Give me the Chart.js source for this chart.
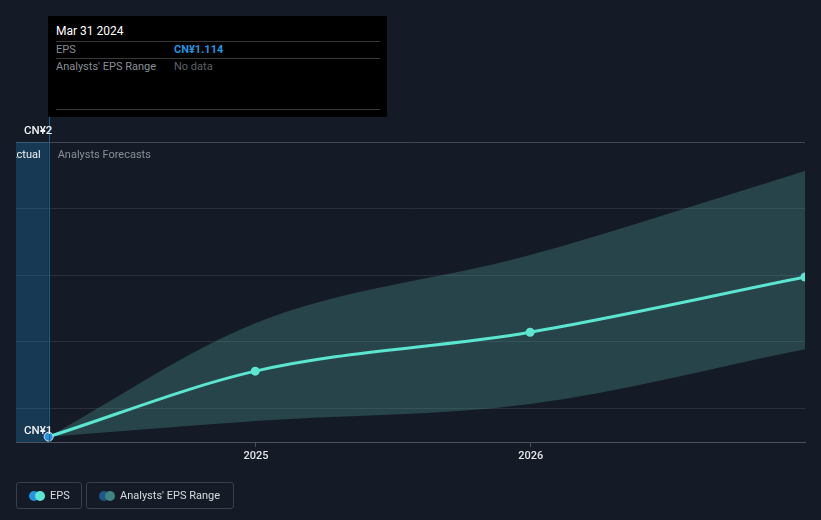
<!DOCTYPE html>
<html><head><meta charset="utf-8">
<script src="https://cdn.jsdelivr.net/npm/chart.js@4/dist/chart.umd.min.js"></script>
<style>
html,body{margin:0;padding:0;background:#151b26;}
#wrap{position:relative;width:821px;height:520px;font-family:Roboto,"Noto Sans",sans-serif;}
canvas{position:absolute;left:0;top:0;}
.tt{position:absolute;left:48px;top:16px;width:339px;height:101px;background:#000;}
.tt div{position:absolute;white-space:nowrap;font-size:11px;line-height:14px;}
.ln{height:1px;background:#3a3a3a;left:8px;width:324px;}
.lg{position:absolute;top:482px;height:27px;border:1px solid #3a404b;border-radius:3px;box-sizing:border-box;}
.lg span{position:absolute;top:6px;font-size:11px;line-height:14px;color:#d8dbe0;white-space:nowrap;}
.dot{position:absolute;top:8px;width:10px;height:10px;border-radius:5px;}
</style></head>
<body><div id="wrap">
<canvas id="c" width="821" height="520"></canvas>
<div class="tt">
  <div style="left:8px;top:8px;color:#fff;font-size:12px;" id="ttTitle"></div>
  <div class="ln" style="top:25px;"></div>
  <div style="left:8px;top:27px;color:#8a8e96;" id="ttEpsLbl"></div>
  <div style="left:126px;top:27px;color:#2394df;font-weight:bold;" id="ttEpsVal"></div>
  <div class="ln" style="top:42px;"></div>
  <div style="left:8px;top:44px;color:#8a8e96;" id="ttRngLbl"></div>
  <div style="left:126px;top:44px;color:#5d6169;">No data</div>
  <div class="ln" style="top:93px;"></div>
</div>
<div class="lg" style="left:16px;width:66px;">
  <div class="dot" style="left:12px;background:#2394df;"></div>
  <div class="dot" style="left:18px;background:#5ce5d0;"></div>
  <span style="left:33px;">EPS</span>
</div>
<div class="lg" style="left:86px;width:148px;">
  <div class="dot" style="left:12px;background:#1f5a86;"></div>
  <div class="dot" style="left:18px;background:#3f8480;"></div>
  <span style="left:33px;">Analysts' EPS Range</span>
</div>
</div>
<script>
// ---- data ----
const dates = ['2024-03-31', '2024-12-31', '2025-12-31', '2026-12-31'];
const eps = [1.114, 1.311, 1.428, 1.594];
const rangeLow = [1.114, 1.161, 1.212, 1.377];
const rangeHigh = [1.114, 1.455, 1.660, 1.913];
const xTickYears = [2025, 2026];
const yLabels = ['CN¥2', 'CN¥1'];
const seriesNames = ['EPS', "Analysts' EPS Range"];
const sectionLabels = ['Actual', 'Analysts Forecasts'];
const tooltipTitle = 'Mar 31 2024';

function decYear(s){
  const [y,m,d] = s.split('-').map(Number);
  const start = Date.UTC(y,0,1), end = Date.UTC(y+1,0,1);
  return y + (Date.UTC(y,m-1,d) - start)/(end-start);
}
const xs = dates.map(decYear);
const pts = arr => arr.map((v,i)=>({x:xs[i], y:v}));

document.getElementById('ttTitle').textContent = tooltipTitle;
document.getElementById('ttEpsLbl').textContent = seriesNames[0];
document.getElementById('ttEpsVal').textContent = 'CN¥' + eps[0].toFixed(3);
document.getElementById('ttRngLbl').textContent = seriesNames[1];

const overlay = {
  id:'overlay',
  beforeDatasetsDraw(chart){
    const {ctx, chartArea:a, scales:{x}} = chart;
    const xa = x.getPixelForValue(xs[0]);
    ctx.save();
    ctx.fillStyle = 'rgba(35,148,223,0.25)';
    ctx.fillRect(a.left, a.top, xa - a.left, a.bottom - a.top);
    ctx.restore();
  },
  afterDatasetsDraw(chart){
    const {ctx, chartArea:a, scales:{x}} = chart;
    const xa = x.getPixelForValue(xs[0]);
    ctx.save();
    ctx.strokeStyle = '#1e5e8f';
    ctx.lineWidth = 1;
    ctx.beginPath(); ctx.moveTo(Math.round(xa)+0.5, 117); ctx.lineTo(Math.round(xa)+0.5, a.bottom); ctx.stroke();
    ctx.font = '500 11.5px Roboto, sans-serif';
    ctx.textBaseline = 'middle';
    ctx.fillStyle = '#eef0f3';
    ctx.textAlign = 'left';
    ctx.fillText(yLabels[0], a.left + 8, a.top - 11);
    ctx.fillText(yLabels[1], a.left + 8, a.bottom - 11);
    ctx.beginPath(); ctx.rect(a.left, a.top, a.right - a.left, a.bottom - a.top); ctx.clip();
    ctx.font = '11px Roboto, sans-serif';
    ctx.textAlign = 'right';
    ctx.fillText(sectionLabels[0], xa - 8, a.top + 13);
    ctx.textAlign = 'left';
    ctx.fillStyle = '#8a8e96';
    ctx.fillText(sectionLabels[1], xa + 9, a.top + 13);
    ctx.restore();
  }
};

new Chart(document.getElementById('c'), {
  type:'line',
  data:{datasets:[
    {label:seriesNames[0], data:pts(eps), borderColor:'#5ce5d0', borderWidth:3,
     pointRadius:4.5, pointBackgroundColor:ctx=>ctx.dataIndex===0?'#2394df':'#5ce5d0',
     pointBorderColor:ctx=>ctx.dataIndex===0?'#cfe6f7':'#5ce5d0', pointBorderWidth:ctx=>ctx.dataIndex===0?1:0,
     cubicInterpolationMode:'monotone', fill:false, order:0},
    {label:seriesNames[1]+' high', data:pts(rangeHigh), borderWidth:0, pointRadius:0,
     backgroundColor:'rgba(78,164,158,0.30)', fill:'+1', cubicInterpolationMode:'monotone', order:1},
    {label:seriesNames[1]+' low', data:pts(rangeLow), borderWidth:0, pointRadius:0,
     fill:false, cubicInterpolationMode:'monotone', order:1}
  ]},
  plugins:[overlay],
  options:{
    responsive:false, animation:false, events:[],
    layout:{padding:{left:16, right:16, top:142, bottom:0}},
    plugins:{legend:{display:false}, tooltip:{enabled:false}},
    scales:{
      x:{type:'linear', min:2024.127, max:xs[xs.length-1],
        afterBuildTicks:s=>{s.ticks = xTickYears.map(v=>({value:v}));},
        afterFit:s=>{s.height = 78;},
        grid:{drawOnChartArea:false, drawTicks:true, tickLength:5, color:'#4b5059'},
        border:{color:'#4b5059', width:1},
        ticks:{color:'#e3e5e8', font:{family:'Roboto', size:11, weight:'500'}, padding:3, maxRotation:0,
          callback:v=>String(v)}},
      y:{min:1.098, max:2.0,
        afterBuildTicks:s=>{s.ticks=[1.2,1.4,1.6,1.8,2.0].map(v=>({value:v}));},
        afterFit:s=>{s.width = 0;},
        ticks:{display:false},
        border:{display:false},
        grid:{drawTicks:false, color:c=>c.tick && c.tick.value===2.0?'#41464f':'#2a303b', lineWidth:1}}
    }
  }
});
</script>
</body></html>
